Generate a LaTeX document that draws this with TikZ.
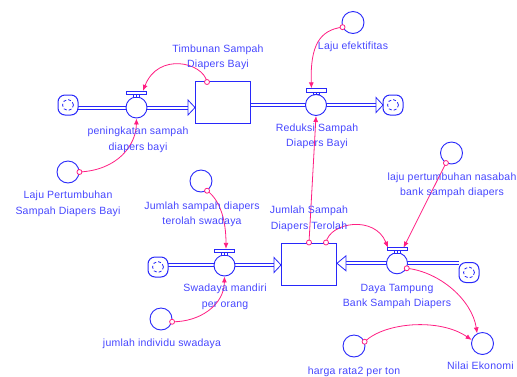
\documentclass[tikz,border=0pt]{standalone}
\usepackage{fontspec}
\setmainfont[LetterSpace=2]{Liberation Sans}
\usetikzlibrary{arrows.meta,calc}
\definecolor{vb}{RGB}{40,40,250}
\definecolor{vt}{RGB}{70,70,255}
\definecolor{vp}{RGB}{255,30,130}
\tikzset{
  aux/.style={circle,draw=vb,line width=0.9pt,minimum size=22pt,inner sep=0pt,fill=white},
  valve/.style={circle,draw=vb,line width=0.9pt,minimum size=21pt,inner sep=0pt,fill=white},
  stock/.style={rectangle,draw=vb,line width=0.9pt,inner sep=0pt,fill=white},
  handle/.style={rectangle,draw=vb,line width=0.8pt,fill=white,minimum width=20pt,minimum height=3.5pt,inner sep=0pt},
  lbl/.style={text=vt,font=\fontsize{10.5}{15.5}\selectfont,align=center,inner sep=0pt},
  pipeline/.style={draw=vb,line width=0.8pt},
  pipehead/.style={draw=vb,fill=white,line width=0.8pt,line join=miter},
  conn/.style={draw=vp,line width=0.8pt,-{Latex[length=6pt,width=5pt]}},
  dot/.style={draw=vp,fill=white,line width=0.8pt},
  sinkbox/.style={draw=vb,line width=1pt,rounded corners=7pt,minimum size=20pt,inner sep=0pt,fill=white},
}
\begin{document}
\begin{tikzpicture}[x=1pt,y=-1pt]
\useasboundingbox (0,0) rectangle (517,376);
\draw[white,line width=0.1pt] (1,1) -- (1.1,1);

% ---------- pipes (two parallel lines each) ----------
\draw[pipeline] (250,103.5) -- (376,103.5);
\draw[pipeline] (250,106.5) -- (376,106.5);
\draw[pipeline] (168,263.5) -- (274,263.5);
\draw[pipeline] (168,266.5) -- (274,266.5);
\draw[pipeline] (459,261.8) -- (346,261.8);
\draw[pipeline] (459,264.8) -- (346,264.8);
\draw[pipeline] (78,106) -- (188,106);
\draw[pipeline] (78,109) -- (188,109);

% ---------- clouds and stocks ----------
\node[sinkbox] (cA) at (68,105) {};
\node[sinkbox] (cB) at (393,105) {};
\node[sinkbox] (cC) at (158,267) {};
\node[sinkbox] (cD) at (469,272.5) {};
\node[stock,minimum width=55pt,minimum height=42pt] (s1) at (222.5,102) {};
\node[stock,minimum width=55pt,minimum height=42pt] (s2) at (308.5,264) {};

\draw[pipehead] (195,107.5) -- (188,100) -- (188,115) -- cycle;
\draw[pipehead] (383,105) -- (376,97.5) -- (376,112.5) -- cycle;
\draw[pipehead] (281,265) -- (274,257.5) -- (274,272.5) -- cycle;
\draw[pipehead] (337,263.3) -- (346,255.8) -- (346,270.8) -- cycle;

% cloud inner marks
\foreach \c in {cA,cB,cC,cD}{
  \draw[vb,line width=0.8pt,dash pattern=on 3pt off 2.2pt] (\c) circle (5.5pt);
}

% ---------- valves ----------
\node[valve] (v1) at (136.5,107.5) {};
\node[valve] (v2) at (316,105) {};
\node[valve] (v3) at (224.5,265.5) {};
\node[valve] (v4) at (397,263.3) {};
\foreach \v in {v1,v2,v3,v4}{
  \draw[vb,line width=0.7pt,fill=white] ($(\v)+(-3,-12.7)$) rectangle ($(\v)+(3,-10.3)$);
  \draw[vb,line width=0.6pt] ($(\v)+(0,-12.7)$) -- ($(\v)+(0,-10.3)$);
  \node[handle] (\v h) at ($(\v)+(0,-14.5)$) {};
}

% ---------- auxiliaries ----------
\node[aux] (lpsdb) at (68,172) {};
\node[aux] (le) at (353,22.5) {};
\node[aux] (lpn) at (451.5,153) {};
\node[aux] (jsdts) at (201,181) {};
\node[aux] (jis) at (161,319) {};
\node[aux] (harga) at (354,346) {};
\node[aux] (nilai) at (482.5,343.5) {};

% ---------- connectors ----------
\coordinate (s1d) at (207,82);
\coordinate (s2a) at (309,242.5);
\coordinate (s2b) at (326,242.5);
\coordinate (v1e) at ($(v1h.north)+(6.5,0)$);
\coordinate (v2e) at ($(v2h.north)+(-4.5,0)$);
\coordinate (v3e) at ($(v3h.north)+(1.5,0)$);
\coordinate (v4l) at ($(v4h.north)+(-9,1)$);
\coordinate (v4r) at ($(v4h.north)+(6.5,1)$);

\draw[conn] (lpsdb.east) .. controls (118,170) and (136,145) .. (v1.south);
\draw[conn] (s1d) .. controls (203,62) and (158,52) .. (v1e);
\draw[conn] (le.204) .. controls (320,30) and (310,45) .. (v2e);
\draw[conn] (s2a) -- (v2.south);
\draw[conn] (s2b) .. controls (330,222) and (375,215) .. (v4l);
\draw[conn] (lpn.241) -- (v4r);
\draw[conn] (v4.333) .. controls (440,272) and (472,300) .. (nilai.118);
\draw[conn] (harga.22) .. controls (385,322) and (440,318) .. (nilai.162);
\draw[conn] (jsdts.302) .. controls (220,200) and (226,220) .. (v3e);
\draw[conn] (jis.346) .. controls (200,322) and (224,305) .. (v3.south);

\foreach \p in {lpsdb.east,s1d,le.204,s2a,s2b,lpn.241,v4.333,harga.22,jsdts.302,jis.346}{
  \draw[dot] (\p) circle (2.5pt);
}

% ---------- labels ----------
\node[lbl] (t1) at (218,57.5) {Timbunan Sampah\\Diapers Bayi};
\node[lbl] (t2) at (138,140) {peningkatan sampah\\diapers bayi};
\node[lbl] (t3) at (68,204) {Laju Pertumbuhan\\Sampah Diapers Bayi};
\node[lbl] (t4) at (353,47) {Laju efektifitas};
\node[lbl] (t5) at (317,136.5) {Reduksi Sampah\\Diapers Bayi};
\node[lbl] (t6) at (452,185.5) {laju pertumbuhan nasabah\\bank sampah diapers};
\node[lbl] (t7) at (202,214.5) {Jumlah sampah diapers\\terolah swadaya};
\node[lbl] (t8) at (309,219) {Jumlah Sampah\\Diapers Terolah};
\node[lbl] (t9) at (225,297) {Swadaya mandiri\\per orang};
\node[lbl] (t10) at (397,296.5) {Daya Tampung\\Bank Sampah Diapers};
\node[lbl] (t11) at (162,344) {jumlah individu swadaya};
\node[lbl] (t12) at (354,372) {harga rata2 per ton};
\node[lbl,anchor=west] (t13) at (447,366) {Nilai Ekonomi};
\end{tikzpicture}
\end{document}
